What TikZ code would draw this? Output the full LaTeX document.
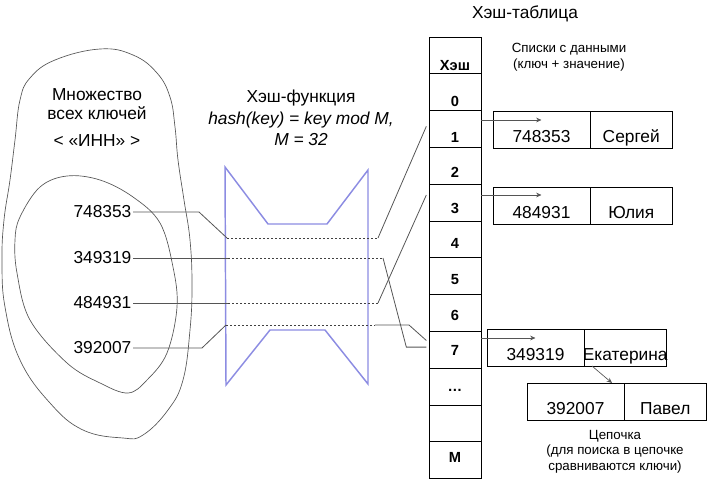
\documentclass[tikz,border=0pt]{standalone}
\usepackage{fontspec}
\setmainfont{Liberation Sans}
\usepackage{xcolor}
\usetikzlibrary{arrows.meta,positioning}

\definecolor{hashblue}{RGB}{140,140,226}
\definecolor{wiregray}{RGB}{85,85,85}

\begin{document}
\begin{tikzpicture}[x=0.75pt, y=-0.75pt,
    big/.style={font=\fontsize{13}{14.5}\selectfont},
    small/.style={font=\fontsize{10}{11.6}\selectfont},
    cell/.style={draw, line width=0.6pt, inner sep=0pt, outer sep=0pt,
        minimum width=39pt, minimum height=27.6pt},
    celltext/.style={anchor=base, inner sep=0pt, font=\fontsize{11}{13}\selectfont\bfseries},
    keybox/.style={draw, line width=0.6pt, inner sep=0pt, outer sep=0pt, minimum width=72.75pt,
        text height=24pt, text depth=3.75pt, big},
    valbox/.style={keybox, minimum width=61.9pt},
    blob/.style={draw=wiregray, line width=0.5pt},
    wire/.style={wiregray, line width=0.6pt},
    dots/.style={black!75, line width=0.5pt, dash pattern=on 1.5pt off 1.5pt},
    ptr/.style={wiregray, line width=0.5pt, -{Stealth[length=4pt, width=3.5pt]}}
]
\useasboundingbox (0,0) rectangle (708,481);

% Left: set of all keys
\draw[blob] plot[smooth cycle, tension=0.7] coordinates {(100,49) (133,55) (157,73) (170,97) (175,127)
    (178,160) (184,200) (190,240) (192,285) (190,330) (183,380) (168,410) (143,435) (123,438)
    (83,430) (50,403) (20,360) (5,307) (2,260) (4,220) (10,180) (15,140) (20,100) (30,78) (55,60)};
\draw[blob] plot[smooth cycle, tension=0.6] coordinates {(67,176) (100,180) (133,197) (160,223)
    (173,267) (177,307) (167,353) (147,380) (128,393) (100,383) (67,363) (30,320) (17,273)
    (15,240) (20,217) (40,187)};
\node[big, align=center, anchor=north, inner sep=0pt] (allkeys) at (97,88)
    {Множество\\всех ключей\\[5.75pt]< «ИНН» >};

% Keys
\node[big, anchor=east, inner sep=1pt] (key1) at (133,212) {748353};
\node[big, anchor=east, inner sep=1pt] (key2) at (133,258) {349319};
\node[big, anchor=east, inner sep=1pt] (key3) at (133,303) {484931};
\node[big, anchor=east, inner sep=1pt] (key4) at (133,348) {392007};

% Hash function
\node[big, font=\fontsize{13}{16}\selectfont, align=center, anchor=north, inner sep=0pt] (hashfn) at (301,90)
    {Хэш-функция\\\textit{hash(key) = key mod M,}\\\textit{M = 32}};
\draw[hashblue, line width=1.1pt, line join=miter] (225,167) -- (268,224) -- (327,224) -- (368,170)
    -- (368,384) -- (325,330) -- (270,330) -- (226,385) -- cycle;

% Hash table
\node[big, anchor=base] (tabtitle) at (525,19) {Хэш-таблица};
\foreach \lab [count=\i from 0] in {Хэш,0,1,2,3,4,5,6,7,\ldots,{},M} {
    \node[cell] (t\i) at (455,{37+36.8*(\i+0.5)}) {};
    \node[celltext] (h\i) at (455,{71+35.6*\i}) {\lab};
}

% Lists with data
\node[small, align=center, anchor=north, inner sep=0pt] (liststitle) at (569,43)
    {Списки с данными\\(ключ + значение)};
\node[keybox, anchor=north west] (l1k) at (493,111) {748353};
\node[valbox, right=0pt of l1k] (l1v) {Сергей};
\node[keybox, anchor=north west] (l3k) at (493,187) {484931};
\node[valbox, right=0pt of l3k] (l3v) {Юлия};
\node[keybox, anchor=north west] (l7k) at (487,329) {349319};
\node[valbox, right=0pt of l7k] (l7v) {\makebox[0pt]{Екатерина}};
\node[keybox, anchor=north west] (l7kb) at (527,383) {392007};
\node[valbox, right=0pt of l7kb] (l7vb) {Павел};
\node[small, align=center, anchor=north, inner sep=0pt] (chaincap) at (615,430)
    {Цепочка\\(для поиска в цепочке\\сравниваются ключи)};

% Pointers from the table
\coordinate (p1) at ([yshift=-6.75pt]l1k.north);
\coordinate (p3) at ([yshift=-6pt]l3k.north);
\coordinate (p7) at ([yshift=-6.75pt]l7k.north);
\draw[ptr] (p1 -| t2.east) -- (p1);
\draw[ptr] (p3 -| t4.east) -- (p3);
\draw[ptr] (p7 -| t8.east) -- (p7);
\draw[ptr] ([xshift=6pt]l7v.south west) -- ([xshift=-9pt]l7kb.north east);

% Keys through the hash function
\coordinate (in1) at (227,238);  \coordinate (out1) at (378,238);
\coordinate (in2) at (228,258);  \coordinate (out2) at (383,258);
\coordinate (in3) at (228,303);  \coordinate (out3) at (378,303);
\coordinate (in4) at (226,325);  \coordinate (out4) at (375,325);

\draw[wire] (key1.east) -- ++(66,0) -- (in1);
\draw[dots] (in1) -- (out1);
\draw[wire] (out1) -- ([xshift=-2pt,yshift=2pt]t2.west);

\draw[wire] (key2.east) -- (in2);
\draw[dots] (in2) -- (out2);
\draw[wire] (out2) -- ([xshift=-17pt,yshift=2pt]t8.west) -- ([xshift=-2pt,yshift=2pt]t8.west);

\draw[wire] (key3.east) -- (in3);
\draw[dots] (in3) -- (out3);
\draw[wire] (out3) -- ([xshift=-2pt,yshift=5.7pt]t4.west);

\draw[wire] (key4.east) -- ++(69,0) -- (in4);
\draw[dots] (in4) -- (out4);
\draw[wire] (out4) -- ++(34,0) -- ([xshift=-2pt,yshift=7pt]t8.west);

\end{tikzpicture}
\end{document}
